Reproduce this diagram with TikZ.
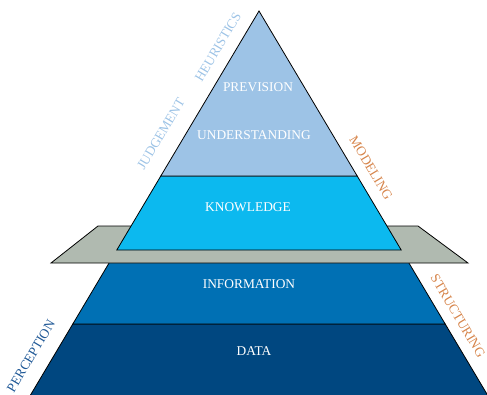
\documentclass[tikz,border=0pt]{standalone}
\usepackage{fontspec}
\setmainfont{Liberation Serif}
\begin{document}
\begin{tikzpicture}[x=1pt,y=-1pt,
  layer/.style={draw=black,line width=0.8pt,line join=miter},
  lvl/.style={text=white,font=\fontsize{13.4}{15}\selectfont,inner sep=0pt},
  side/.style={font=\fontsize{13.4}{15}\selectfont,inner sep=0pt},
  sideup/.style={side,rotate=59.2},
  sidedown/.style={side,rotate=-59.2}]
\definecolor{cTop}{RGB}{157,195,230}
\definecolor{cKnow}{RGB}{12,185,239}
\definecolor{cInfo}{RGB}{0,112,180}
\definecolor{cData}{RGB}{0,71,128}
\definecolor{cPlane}{RGB}{176,186,176}
\definecolor{cOrange}{RGB}{214,132,74}
\definecolor{cPerc}{RGB}{31,88,150}
\useasboundingbox (0,0) rectangle (487,394);
% coordinates
\coordinate (A) at (259,11);
\coordinate (UL) at (160.8,176);
\coordinate (UR) at (357.2,176);
\coordinate (KL) at (116.8,250);
\coordinate (KR) at (401.2,250);
\coordinate (DL) at (72.8,324);
\coordinate (DR) at (445.2,324);
\coordinate (BL) at (29.3,397);
\coordinate (BR) at (488.7,397);
\coordinate (P1) at (98,226);
\coordinate (P2) at (418,226);
\coordinate (P3) at (468,263);
\coordinate (P4) at (51,263);
% lower pyramid
\filldraw[layer,fill=cData] (DL) -- (DR) -- (BR) -- (BL) -- cycle;
\filldraw[layer,fill=cInfo] (KL) -- (KR) -- (DR) -- (DL) -- cycle;
% plane
\filldraw[layer,fill=cPlane] (P1) -- (P2) -- (P3) -- (P4) -- cycle;
% upper pyramid
\filldraw[layer,fill=cKnow] (UL) -- (UR) -- (KR) -- (KL) -- cycle;
\filldraw[layer,fill=cTop] (A) -- (UR) -- (UL) -- cycle;
% level labels
\node[lvl] (prev) at (258,87) {PREVISION};
\node[lvl] (und) at (254,135) {UNDERSTANDING};
\node[lvl] (know) at (248,207) {KNOWLEDGE};
\node[lvl] (info) at (249,284) {INFORMATION};
\node[lvl] (data) at (254,351) {DATA};
% side labels
\node[sideup,text=cTop] (heur) at (218,47) {HEURISTICS};
\node[sideup,text=cTop] (judg) at (161,134) {JUDGEMENT};
\node[sideup,text=cPerc] (perc) at (31,356) {PERCEPTION};
\node[sidedown,text=cOrange] (mod) at (371,168) {MODELING};
\node[sidedown,text=cOrange] (struc) at (458,316) {STRUCTURING};
\end{tikzpicture}
\end{document}
